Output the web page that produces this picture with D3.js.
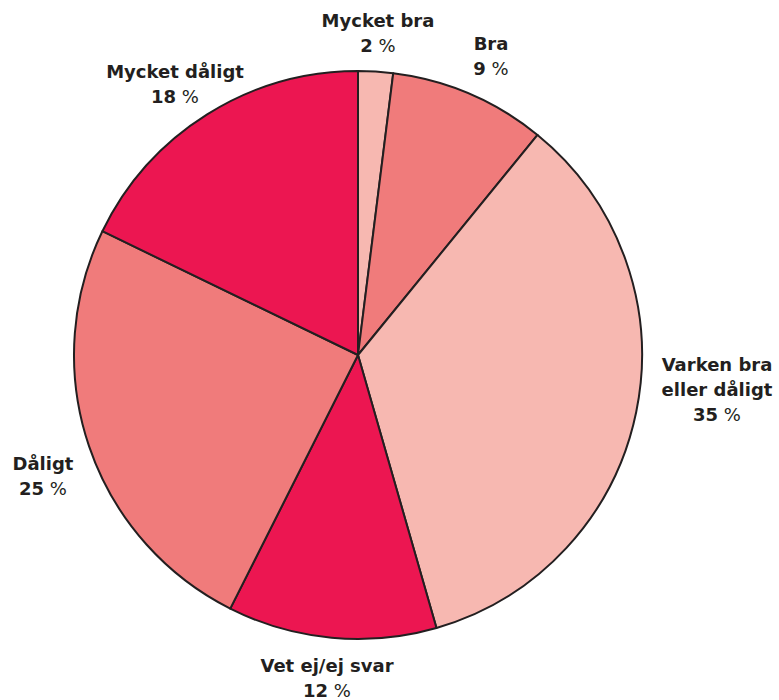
<!DOCTYPE html>
<html>
<head>
<meta charset="utf-8">
<style>
body { margin: 0; background: #fff; }
text { font-family: "DejaVu Sans", sans-serif; font-weight: bold; fill: #231f20; }
</style>
</head>
<body>
<svg id="chart" width="779" height="700"></svg>
<script src="https://d3js.org/d3.v7.min.js"></script>
<script>
    // slices, clockwise from 12 o'clock
    const categories = ["Mycket bra", "Bra", "Varken bra\neller dåligt", "Vet ej/ej svar", "Dåligt", "Mycket dåligt"];
    const values = [2, 9, 35, 12, 25, 18];
    const colors = ["#f7b8b1", "#f07b7b", "#f7b8b1", "#ec1651", "#f07b7b", "#ec1651"];
    // label anchor (centre x, first baseline y)
    const label_pos = [[378, 27], [491, 50], [717, 371], [327, 672], [43, 470], [175, 78]];

    const svg = d3.select("#chart");
    const cx = 358, cy = 355, radius = 284;
    const line_h = 25;

    const pie = d3.pie().sort(null).value(d => d.value);
    const arc = d3.arc().innerRadius(0).outerRadius(radius);

    const data = categories.map((c, i) => ({name: c, value: values[i], color: colors[i], pos: label_pos[i]}));

    const g = svg.append("g").attr("transform", "translate(" + cx + "," + cy + ")");

    g.selectAll("path.slice")
        .data(pie(data))
        .enter()
        .append("path")
        .attr("class", "slice")
        .attr("d", arc)
        .style("fill", d => d.data.color)
        .style("stroke", "#231f20")
        .style("stroke-width", 2)
        .style("stroke-linejoin", "round");

    const labels = svg.selectAll("text.label")
        .data(data)
        .enter()
        .append("text")
        .attr("class", "label")
        .attr("text-anchor", "middle")
        .attr("font-size", "18px");

    labels.each(function(d) {
        const t = d3.select(this);
        const lines = d.name.split("\n");
        lines.forEach((l, i) => {
            t.append("tspan")
                .attr("x", d.pos[0])
                .attr("y", d.pos[1] + i * line_h)
                .text(l);
        });
        t.append("tspan")
            .attr("x", d.pos[0])
            .attr("y", d.pos[1] + lines.length * line_h)
            .text(d.value);
        t.append("tspan").attr("font-weight", "normal").text(" %");
    });
</script>
</body>
</html>
